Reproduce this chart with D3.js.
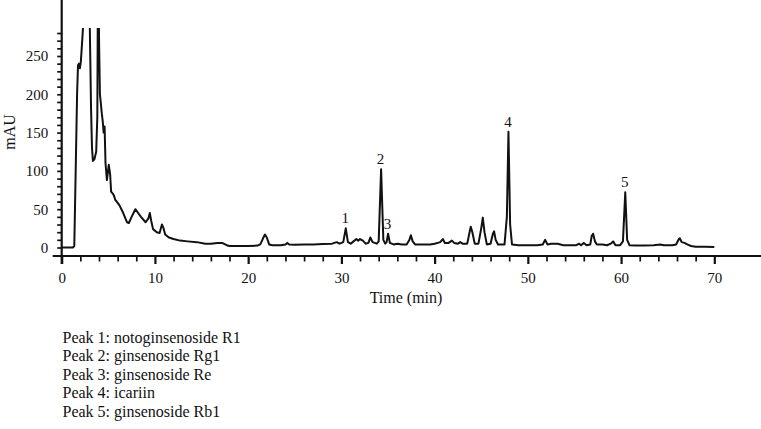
<!DOCTYPE html>
<html>
<head>
<meta charset="utf-8">
<script src="https://cdn.jsdelivr.net/npm/d3@7"></script>
<style>
  html, body { margin: 0; padding: 0; background: #fff; }
  svg { display: block; }
  text { font-family: "Liberation Serif", "DejaVu Serif", serif; fill: #111; }
</style>
</head>
<body>
<svg id="chart" width="761" height="429"></svg>
<script>
// ---- data ----
const timeMin = [
  0, 1.2, 1.35, 1.5, 1.65, 1.75, 1.85, 1.95, 2.05, 2.2, 2.3, 2.4,
  2.95, 3.05, 3.15, 3.25, 3.35, 3.5, 3.7, 3.82, 3.88, 3.95, 4.02, 4.1,
  4.2, 4.3, 4.4, 4.5, 4.6, 4.7, 4.85, 5.05, 5.2, 5.3, 5.5, 5.6, 5.75, 5.9,
  6.2, 6.6, 7.0, 7.2, 7.5, 7.9, 8.2, 8.5, 9.0, 9.3, 9.45, 9.6, 9.8, 10.2,
  10.5, 10.75, 10.9, 11.1, 11.5, 12, 12.7, 13.5, 14.5, 15.4, 16, 16.7, 17.2,
  17.7, 18, 19, 20, 21, 21.3, 21.6, 21.8, 22.0, 22.25, 22.6, 23.5, 24.0,
  24.2, 24.4, 25, 26, 27, 28, 29, 29.5, 29.8, 30.2, 30.47, 30.7, 31.0,
  31.3, 31.6, 31.8, 32.0, 32.3, 32.6, 32.9, 33.1, 33.35, 33.8, 34.0, 34.26,
  34.5, 34.7, 34.85, 35.01, 35.2, 35.6, 36, 36.5, 37.0, 37.3, 37.45, 37.65,
  37.9, 38.5, 39, 39.5, 40, 40.6, 40.88, 41.1, 41.5, 41.85, 42.1, 42.5,
  42.74, 43.0, 43.5, 43.75, 43.88, 44.05, 44.3, 44.7, 45.0, 45.17, 45.35,
  45.6, 46.0, 46.25, 46.38, 46.55, 46.8, 47.5, 47.75, 47.92, 48.1, 48.3,
  49, 50, 51, 51.6, 51.86, 52.1, 52.5, 53.2, 53.8, 54.5, 55.2, 55.5, 55.7,
  56.0, 56.3, 56.7, 56.85, 57.0, 57.2, 57.4, 58, 58.5, 58.9, 59.15, 59.4,
  59.9, 60.2, 60.45, 60.65, 60.9, 61.5, 62.5, 63.5, 64.2, 64.6, 65.5, 65.9,
  66.2, 66.3, 66.5, 66.8, 67.1, 67.5, 68, 69, 70
];
const absorbance = [
  0, 0, 2, 100, 200, 238, 240, 234, 242, 270, 290, 340,
  340, 260, 180, 130, 113, 115, 125, 170, 330, 330, 260, 200,
  188, 175, 165, 150, 158, 110, 88, 108, 95, 73, 70, 68, 62, 60,
  55, 45, 33, 32, 40, 50, 45, 40, 33, 38, 45, 35, 24, 20,
  19, 30, 26, 17, 13, 11, 9, 8, 7, 5, 5, 6, 6,
  3, 2, 2, 2, 2.5, 4, 12, 17, 13, 4, 3, 3, 4,
  6, 4, 3.5, 4, 4, 4.5, 5, 7, 5, 7, 25, 7, 5,
  8, 11, 9, 11, 9, 5, 6, 13, 7, 5, 8, 102,
  10, 5, 7, 18, 6, 4, 5, 4, 4, 10, 16, 8,
  4, 4, 4, 4, 5, 7, 11, 6, 6, 9, 6, 5,
  7, 5, 5, 20, 27, 20, 5, 5, 25, 39, 20,
  4, 5, 18, 21, 10, 4, 4, 40, 151, 30, 4,
  3, 3, 3, 4, 10, 4, 5, 5, 3, 3, 3, 5, 3,
  6, 3, 4, 15, 18, 8, 4, 4, 3, 5, 8, 3,
  3, 8, 72, 10, 3, 2.5, 2.5, 3, 4, 3, 3, 4,
  11, 12, 7, 6, 4, 2, 1, 1, 0.5
];
const peakLabels = ["1", "2", "3", "4", "5"];
const peakTimes = [30.47, 34.26, 35.01, 47.92, 60.45];
const peakHeights = [25, 102, 18, 151, 72];
const xTickValues = d3.range(0, 71, 2);
const xTickLabels = ["0", "10", "20", "30", "40", "50", "60", "70"];
const yTickValues = d3.range(0, 281, 10);
const yTickLabels = ["0", "50", "100", "150", "200", "250"];
const xTitle = "Time (min)";
const yTitle = "mAU";
const legendLines = [
  "Peak 1: notoginsenoside R1",
  "Peak 2: ginsenoside Rg1",
  "Peak 3: ginsenoside Re",
  "Peak 4: icariin",
  "Peak 5: ginsenoside Rb1"
];

// ---- layout ----
const svg = d3.select("#chart");
const W = 761, H = 429;
const x = d3.scaleLinear().domain([0, 70]).range([61.7, 714.3]);
const y = d3.scaleLinear().domain([0, 250]).range([247.5, 56]);
const axisY = 256;        // x-axis line position
const clipTop = 28;       // trace is cut off here
const ink = "#111";

svg.append("rect").attr("width", W).attr("height", H).attr("fill", "#fff");

// clip for trace
svg.append("defs").append("clipPath").attr("id", "plotclip")
  .append("rect").attr("x", x(0) - 2).attr("y", clipTop)
  .attr("width", x(70) - x(0) + 10).attr("height", axisY - clipTop);

const data = timeMin.map((t, i) => [t, absorbance[i]]);
const line = d3.line().x(d => x(d[0])).y(d => y(d[1]));
svg.append("path")
  .datum(data)
  .attr("clip-path", "url(#plotclip)")
  .attr("fill", "none")
  .attr("stroke", ink)
  .attr("stroke-width", 2)
  .attr("stroke-linejoin", "round")
  .attr("d", line);

// ---- y axis ----
const yAxis = d3.axisLeft(y)
  .tickValues(yTickValues)
  .tickSize(4.5)
  .tickPadding(9)
  .tickFormat(d => yTickLabels.includes(String(d)) ? String(d) : "");
const gy = svg.append("g").attr("transform", `translate(${x(0)},0)`).call(yAxis);
gy.select(".domain").remove();
gy.selectAll(".tick line").attr("stroke", ink).attr("stroke-width", 1.7);
gy.selectAll(".tick text")
  .attr("font-size", 15)
  .attr("font-family", "Liberation Serif, serif")
  .attr("fill", ink);
svg.append("line")
  .attr("x1", x(0)).attr("x2", x(0))
  .attr("y1", 0).attr("y2", axisY + 8)
  .attr("stroke", ink).attr("stroke-width", 2.2);

// ---- x axis ----
const xAxis = d3.axisBottom(x)
  .tickValues(xTickValues)
  .tickSize(5)
  .tickFormat(d => xTickLabels.includes(String(d)) ? String(d) : "");
const gx = svg.append("g").attr("transform", `translate(0,${axisY})`).call(xAxis);
gx.select(".domain").remove();
gx.selectAll(".tick line")
  .attr("stroke", ink)
  .attr("stroke-width", d => d % 10 === 0 ? 2.2 : 1.7)
  .attr("y2", d => d % 10 === 0 ? 8 : 5.5);
gx.selectAll(".tick text")
  .attr("y", 16.5)
  .attr("font-size", 15)
  .attr("font-family", "Liberation Serif, serif")
  .attr("fill", ink);
svg.append("line")
  .attr("x1", 52.7).attr("x2", W)
  .attr("y1", axisY).attr("y2", axisY)
  .attr("stroke", ink).attr("stroke-width", 2.2);

// ---- titles ----
svg.append("text")
  .attr("x", 406).attr("y", axisY + 47)
  .attr("text-anchor", "middle")
  .attr("font-size", 16)
  .text(xTitle);
svg.append("text")
  .attr("transform", `translate(15,132) rotate(-90)`)
  .attr("text-anchor", "middle")
  .attr("font-size", 16)
  .text(yTitle);

// ---- peak labels ----
svg.selectAll(".peaklab")
  .data(peakLabels)
  .join("text")
  .attr("class", "peaklab")
  .attr("x", (d, i) => x(peakTimes[i]) - 0.5)
  .attr("y", (d, i) => y(peakHeights[i]) - 5)
  .attr("text-anchor", "middle")
  .attr("font-size", 15)
  .text(d => d);

// ---- legend text ----
svg.selectAll(".leg")
  .data(legendLines)
  .join("text")
  .attr("class", "leg")
  .attr("x", 62.5)
  .attr("y", (d, i) => 343 + i * 18.4)
  .attr("font-size", 16)
  .text(d => d);
</script>
</body>
</html>
